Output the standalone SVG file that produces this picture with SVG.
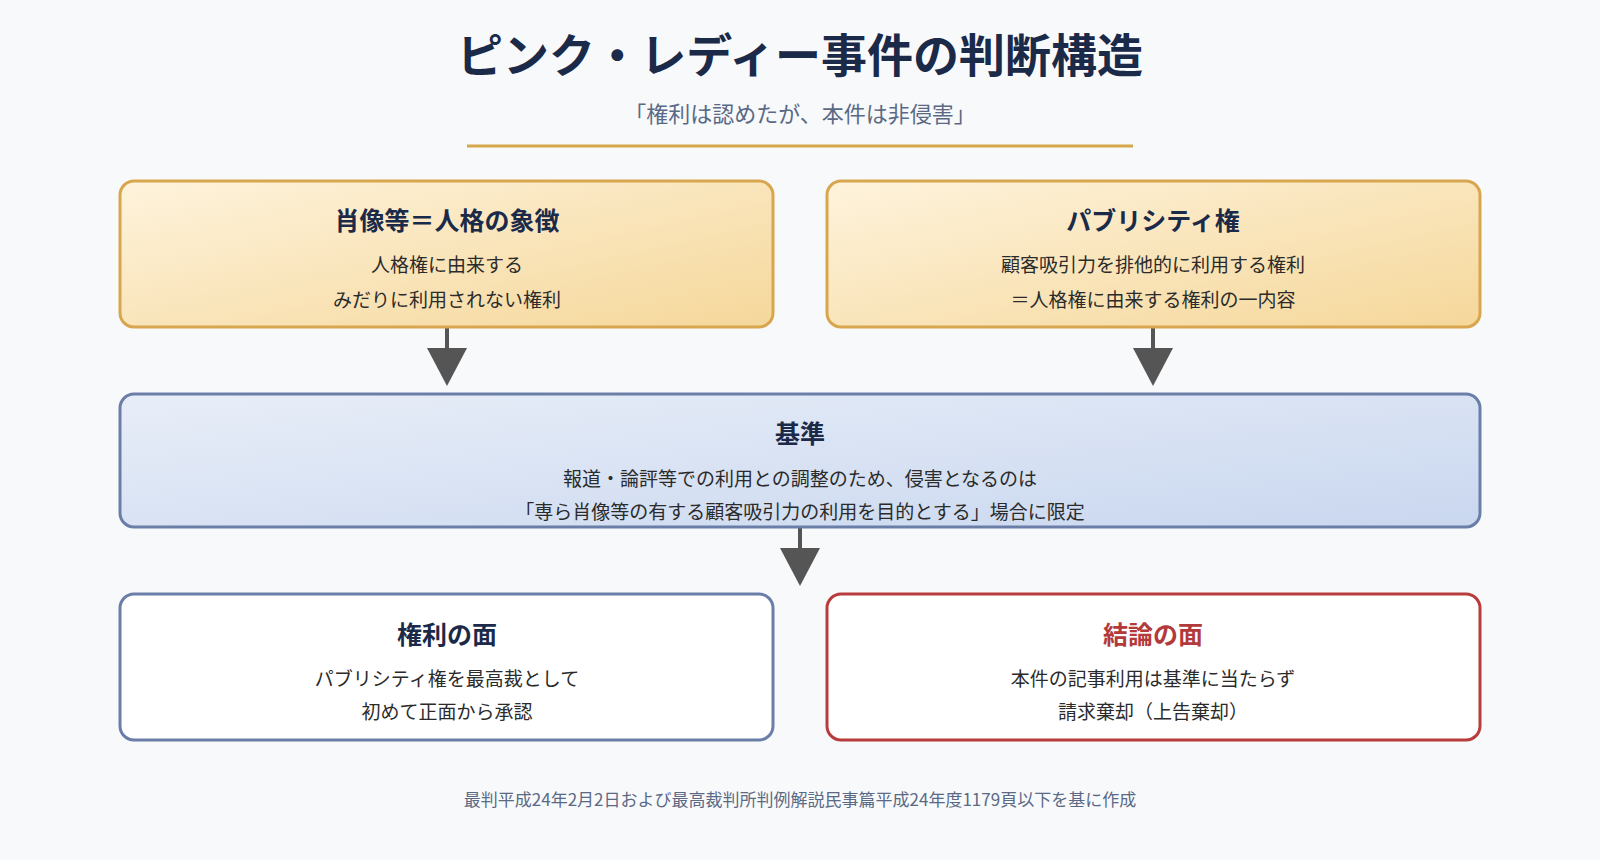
<svg xmlns="http://www.w3.org/2000/svg" width="1600" height="860" viewBox="0 0 1600 860">
<defs>
<linearGradient id="gold" x1="0" y1="0" x2="1" y2="1"><stop offset="0" stop-color="#fef3dc"/><stop offset="1" stop-color="#f5d79a"/></linearGradient>
<linearGradient id="blue" x1="0" y1="0" x2="1" y2="1"><stop offset="0" stop-color="#e8eef8"/><stop offset="1" stop-color="#c9d7ef"/></linearGradient>
<style>
text{font-family:"Noto Sans CJK JP","Noto Sans",sans-serif;text-anchor:middle}
.t{font-size:25px;font-weight:bold;fill:#1b2a48}
.b{font-size:19px;fill:#2b2b2b}
.g{fill:url(#gold);stroke:#d8a64e;stroke-width:3}
.bl{fill:url(#blue);stroke:#6a7ea8;stroke-width:3}
.w{fill:#fff;stroke:#6a7ea8;stroke-width:3}
.r{fill:#fff;stroke:#b83c3c;stroke-width:3}
.ar{fill:#555;stroke:none}
.st{stroke:#555;stroke-width:4}
</style>
</defs>
<rect width="1600" height="860" fill="#f8f9fb"/>
<text x="800" y="72" font-size="46" font-weight="bold" fill="#1b2a48">ピンク・レディー事件の判断構造</text>
<text x="800" y="122" font-size="22" fill="#5a6a85">「権利は認めたが、本件は非侵害」</text>
<line x1="467" y1="146" x2="1133" y2="146" stroke="#d4a84b" stroke-width="3"/>
<g id="connectors">
<line class="st" x1="447" y1="327" x2="447" y2="350"/><polygon class="ar" points="427,348 467,348 447,386"/>
<line class="st" x1="1153" y1="327" x2="1153" y2="350"/><polygon class="ar" points="1133,348 1173,348 1153,386"/>
<line class="st" x1="800" y1="527" x2="800" y2="550"/><polygon class="ar" points="780,548 820,548 800,586"/>
</g>
<g id="n1"><rect class="g" x="120" y="181" width="653" height="146" rx="14"/>
<text class="t" x="447" y="230">肖像等＝人格の象徴</text>
<text class="b" x="447" y="272">人格権に由来する</text><text class="b" x="447" y="307">みだりに利用されない権利</text></g>
<g id="n2"><rect class="g" x="827" y="181" width="653" height="146" rx="14"/>
<text class="t" x="1153" y="230">パブリシティ権</text>
<text class="b" x="1153" y="272">顧客吸引力を排他的に利用する権利</text><text class="b" x="1153" y="307">＝人格権に由来する権利の一内容</text></g>
<g id="n3"><rect class="bl" x="120" y="394" width="1360" height="133" rx="14"/>
<text class="t" x="800" y="443">基準</text>
<text class="b" x="800" y="486">報道・論評等での利用との調整のため、侵害となるのは</text><text class="b" x="800" y="519">「専ら肖像等の有する顧客吸引力の利用を目的とする」場合に限定</text></g>
<g id="n4"><rect class="w" x="120" y="594" width="653" height="146" rx="14"/>
<text class="t" x="447" y="644">権利の面</text>
<text class="b" x="447" y="686">パブリシティ権を最高裁として</text><text class="b" x="447" y="719">初めて正面から承認</text></g>
<g id="n5"><rect class="r" x="827" y="594" width="653" height="146" rx="14"/>
<text class="t" x="1153" y="644" style="fill:#b23a3a">結論の面</text>
<text class="b" x="1153" y="686">本件の記事利用は基準に当たらず</text><text class="b" x="1153" y="719">請求棄却（上告棄却）</text></g>
<text x="800" y="806" font-size="17" fill="#5a6a85">最判平成24年2月2日および最高裁判所判例解説民事篇平成24年度1179頁以下を基に作成</text>
</svg>
